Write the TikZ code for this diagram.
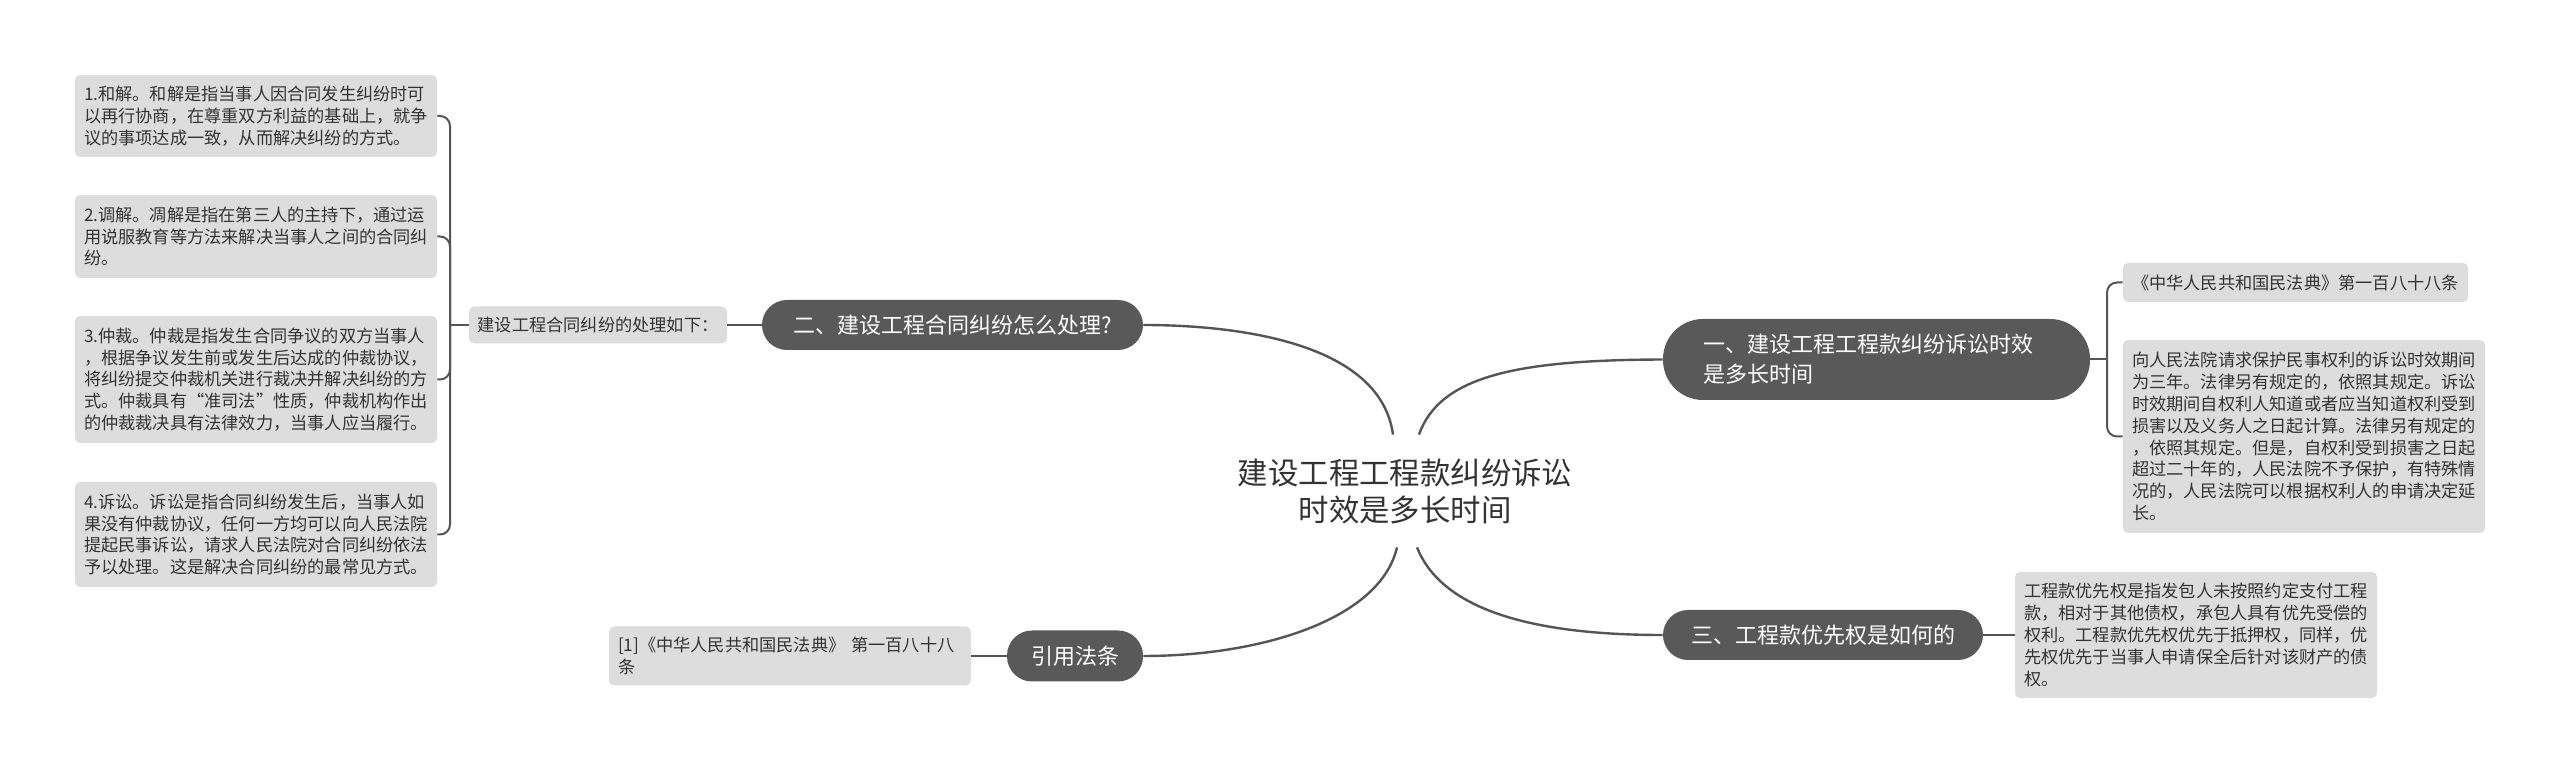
\documentclass[tikz,border=0pt]{standalone}
\usepackage{fontspec}
\setmainfont{Noto Sans CJK SC}
\definecolor{leafgray}{RGB}{221,221,221}
\definecolor{topicgray}{RGB}{89,89,89}
\definecolor{linegray}{RGB}{85,85,85}
\definecolor{txt}{RGB}{51,51,51}
\newcommand{\leaffont}{\fontsize{8.6pt}{10.9pt}\selectfont}
\newcommand{\topicfont}{\fontsize{11pt}{15pt}\selectfont}
\newcommand{\rootfont}{\fontsize{15.2pt}{18.5pt}\selectfont}
\begin{document}
\begin{tikzpicture}[x=0.5pt,y=-0.5pt,
 leaf/.style={fill=leafgray, rounded corners=2.5pt, align=left, inner xsep=4.5pt, inner ysep=0pt, text width=172pt, font=\leaffont, text=txt},
 tag/.style={fill=leafgray, rounded corners=2.5pt, inner xsep=4pt, inner ysep=0pt, font=\leaffont, text=txt},
 topic/.style={fill=topicgray, text=white, font=\topicfont, inner sep=0pt, rounded corners=12.5pt},
 conn/.style={draw=linegray, line width=1pt},
 branch/.style={draw=linegray, line width=1.2pt},
 brk/.style={conn, rounded corners=5pt}]
\fill[white] (0,0) rectangle (2560,774);
\useasboundingbox (0,0) rectangle (2560,774);

% left leaves
\node[leaf, minimum height=41pt] (b1) at (256,116) {1.和解。和解是指当事人因合同发生纠纷时可\\以再行协商，在尊重双方利益的基础上，就争\\议的事项达成一致，从而解决纠纷的方式。};
\node[leaf, minimum height=41.5pt] (b2) at (256,236.5) {2.调解。凋解是指在第三人的主持下，通过运\\用说服教育等方法来解决当事人之间的合同纠\\纷。};
\node[leaf, minimum height=63.5pt] (b3) at (256,379.5) {3.仲裁。仲裁是指发生合同争议的双方当事人\\，根据争议发生前或发生后达成的仲裁协议，\\将纠纷提交仲裁机关进行裁决并解决纠纷的方\\式。仲裁具有“准司法”性质，仲裁机构作出\\的仲裁裁决具有法律效力，当事人应当履行。};
\node[leaf, minimum height=52.5pt] (b4) at (256,534.5) {4.诉讼。诉讼是指合同纠纷发生后，当事人如\\果没有仲裁协议，任何一方均可以向人民法院\\提起民事诉讼，请求人民法院对合同纠纷依法\\予以处理。这是解决合同纠纷的最常见方式。};

\node[tag, minimum width=129pt, minimum height=18.5pt] (p2) at (598,325) {建设工程合同纠纷的处理如下：};
\node[topic, minimum width=190.5pt, minimum height=25pt] (t2) at (952.5,325) {二、建设工程合同纠纷怎么处理?};

\node[leaf, minimum height=29.5pt] (ref) at (790,656) {[1]《中华人民共和国民法典》 第一百八十八\\条};
\node[topic, minimum width=68pt, minimum height=25.5pt] (cite) at (1075,656) {引用法条};

% root
\node[font=\rootfont, text=txt, align=center, inner sep=0pt, minimum height=56pt] (root) at (1405,491) {建设工程工程款纠纷诉讼\\时效是多长时间};

% right side
\node[topic, rounded corners=20pt, align=left, text width=173.5pt, inner xsep=20pt, minimum height=40.5pt] (t1) at (1876.5,359.5) {一、建设工程工程款纠纷诉讼时效\\是多长时间};
\node[topic, minimum width=160pt, minimum height=25pt] (t3) at (1823,635) {三、工程款优先权是如何的};

\node[tag, minimum width=172.5pt, minimum height=19.5pt] (r1) at (2295.5,282.5) {《中华人民共和国民法典》第一百八十八条};
\node[leaf, minimum height=96.5pt] (r2) at (2304,436.5) {向人民法院请求保护民事权利的诉讼时效期间\\为三年。法律另有规定的，依照其规定。诉讼\\时效期间自权利人知道或者应当知道权利受到\\损害以及义务人之日起计算。法律另有规定的\\，依照其规定。但是，自权利受到损害之日起\\超过二十年的，人民法院不予保护，有特殊情\\况的，人民法院可以根据权利人的申请决定延\\长。};
\node[leaf, minimum height=63pt] (r3) at (2196,635) {工程款优先权是指发包人未按照约定支付工程\\款，相对于其他债权，承包人具有优先受偿的\\权利。工程款优先权优先于抵押权，同样，优\\先权优先于当事人申请保全后针对该财产的债\\权。};

% left bracket
\coordinate (bl) at (450,325);
\draw[conn] (p2.west) -- (bl);
\foreach \n in {b1,b2,b3,b4} \draw[brk] (bl) |- (\n.east);
\draw[conn] (t2.west) -- (p2.east);
\draw[conn] (cite.west) -- (ref.east);

% right bracket
\coordinate (br) at (2107,359.5);
\draw[conn] (t1.east) -- (br);
\draw[brk] (br) |- (r1.west);
\draw[brk] (br) |- (r2.west);
\draw[conn] (t3.east) -- (r3.west);

% root branches
\draw[branch] ([xshift=-6pt]root.north) .. controls (1380,340) and (1230,325) .. (t2.east);
\draw[branch] ([xshift=7pt]root.north) .. controls (1440,375) and (1520,360) .. (t1.west);
\draw[branch] ([xshift=6pt]root.south) .. controls (1440,605) and (1520,635) .. (t3.west);
\draw[branch] ([xshift=-4pt]root.south) .. controls (1380,620) and (1260,656) .. (cite.east);
\end{tikzpicture}
\end{document}
